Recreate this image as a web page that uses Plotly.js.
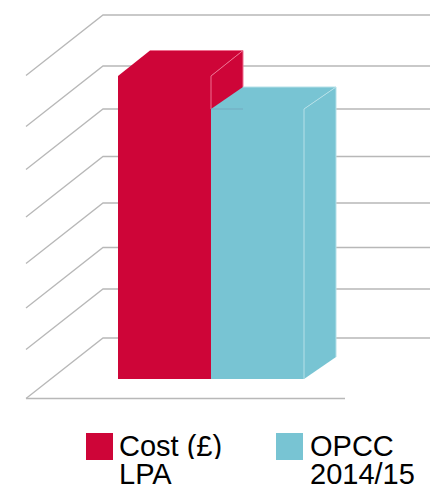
<!DOCTYPE html>
<html>
<head>
<meta charset="utf-8">
<script src="https://cdn.plot.ly/plotly-3.0.1.min.js"></script>
<style>html,body{margin:0;padding:0;background:#fff;overflow:hidden}#c{width:435px;height:486px}</style>
</head>
<body>
<div id="c"></div>
<script>
// Data (no printed scale, so units are the chart's own axis units)
const categories = ["Cost (£) LPA", "OPCC 2014/15"];
const values = [303, 270];
const gridLevels = [0, 49, 90.5, 135, 181.5, 229, 272, 323];
const legendLine1 = ["Cost (£)", "OPCC"];
const legendLine2 = ["LPA", "2014/15"];
const colors = ["#CE0538", "#78C4D3"];
const edgeColors = ["#EE6F8F", "#B5E0E8"];

// Oblique projection settings
const barLeft = [118, 211], barW = 93, depthX = 32, depthY = [25.5, 22];
const wallLift = 41, gridFrontX = 26, gridBackX = 103, gridRightX = 430, floorRightX = 345, gridDrop = 60.5;
const gridColor = "#B8B8B8";
const legendSwatchX = [99.5, 289.5], legendTextX = [118, 308.5];
const legendValueY = -67.5, line1Y = -66, line2Y = -94;

const traces = [];
gridLevels.forEach((g, i) => {
  const back = g + wallLift, front = back - gridDrop;
  traces.push({
    x: [gridFrontX, gridBackX, gridRightX], y: [front, back, back],
    mode: "lines", line: {color: gridColor, width: 1.3}
  });
  if (i === 0) traces.push({
    x: [gridFrontX, floorRightX], y: [front, front],
    mode: "lines", line: {color: gridColor, width: 1.5}
  });
});
function poly(xs, ys, color) {
  traces.push({x: xs, y: ys, mode: "lines", fill: "toself", fillcolor: color, line: {width: 0, color: color}});
}
function edge(xs, ys, color) {
  traces.push({x: xs, y: ys, mode: "lines", line: {color: color, width: 1}});
}
categories.forEach((cat, i) => {
  const L = barLeft[i], R = L + barW, v = values[i], dy = depthY[i];
  poly([L, L + depthX, R + depthX, R], [v, v + dy, v + dy, v], colors[i]);           // top
  poly([R, R + depthX, R + depthX, R], [0, dy, v + dy, v], colors[i]);               // side
  poly([L, R, R, L], [0, 0, v, v], colors[i]);                                       // front
  edge([L + depthX, R + depthX, R + depthX], [v + dy, v + dy, dy], edgeColors[i]);
  edge([R, R + depthX], [v, v + dy], edgeColors[i]);
  edge([R, R], [i === 0 ? values[1] : 0, v], edgeColors[i]);
  traces.push({
    x: [legendSwatchX[i]], y: [legendValueY], mode: "markers",
    marker: {symbol: "square", size: 27, color: colors[i], line: {width: 0}}
  });
});
// the faint wall line seen through the second bar's top
traces.push({x: [barLeft[1], barLeft[1] + depthX], y: [values[1], values[1]], mode: "lines",
  line: {color: "rgba(110,150,175,0.55)", width: 1}});

const font = {family: "Liberation Sans, Arial, sans-serif", size: 29, color: "#000"};
const annotations = [];
[legendLine1, legendLine2].forEach((lines, k) => lines.forEach((t, i) => annotations.push({
  x: legendTextX[i], y: k === 0 ? line1Y : line2Y, text: t, showarrow: false,
  xanchor: "left", yanchor: "middle", font: font, borderpad: 0, height: 27
})));

Plotly.newPlot("c", traces, {
  width: 435, height: 486,
  margin: {l: 0, r: 0, t: 0, b: 0},
  paper_bgcolor: "#fff", plot_bgcolor: "#fff",
  showlegend: false, hovermode: false,
  xaxis: {range: [0, 435], visible: false, fixedrange: true},
  yaxis: {range: [-107, 379], visible: false, fixedrange: true},
  annotations: annotations
}, {displayModeBar: false, staticPlot: true});
</script>
</body>
</html>
